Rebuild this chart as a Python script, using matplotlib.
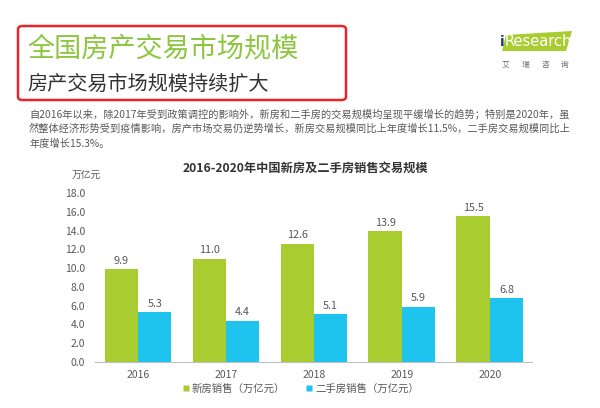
import numpy as np
import matplotlib
matplotlib.use('Agg')
import matplotlib.pyplot as plt
from matplotlib.patches import FancyBboxPatch, Polygon
from matplotlib.lines import Line2D

plt.rcParams['font.family'] = ['Noto Sans CJK SC', 'DejaVu Sans']

years = ['2016', '2017', '2018', '2019', '2020']
new_house = [9.9, 11.0, 12.6, 13.9, 15.5]
second_house = [5.3, 4.4, 5.1, 5.9, 6.8]
series_names = ['新房销售（万亿元）', '二手房销售（万亿元）']
yticks = np.arange(0, 18.1, 2.0)

GREEN = '#a9cc30'
BLUE = '#1ec4ee'
GRAY = '#595959'

W, H = 600, 408
fig = plt.figure(figsize=(6, 4.08), dpi=100)


def fx(px):
    return px / W


def fy(py):
    return 1 - py / H


# 标题框
box = FancyBboxPatch((fx(18), fy(100)), fx(328), (100 - 26) / H,
                     boxstyle='round,pad=0,rounding_size=0.008',
                     transform=fig.transFigure, fill=False,
                     edgecolor='#e5262a', linewidth=1.8)
fig.patches.append(box)
fig.text(fx(27), fy(49), '全国房产交易市场规模', fontsize=19.5, color='#8cc63e',
         va='center', ha='left')
fig.text(fx(27), fy(84), '房产交易市场规模持续扩大', fontsize=14.5, color='#333333',
         va='center', ha='left')

# logo
logo = Polygon([(fx(502), fy(51)), (fx(506), fy(35)), (fx(572), fy(31)),
                (fx(566), fy(51))], closed=True, transform=fig.transFigure,
               facecolor='#a9cc30', edgecolor='none')
fig.patches.append(logo)
fig.text(fx(500), fy(42), 'i', fontsize=10, color='#1b3b6f', va='center', ha='left',
         family='DejaVu Sans', fontweight='bold')
fig.text(fx(505), fy(42), 'Research', fontsize=10.5, color='white', va='center',
         ha='left', family='DejaVu Sans')
for i, ch in enumerate('艾瑞咨询'):
    fig.text(fx(505 + 20 * i), fy(65), ch, fontsize=5.5, color='#666666',
             va='center', ha='center')

# 说明文字
para = ['自2016年以来，除2017年受到政策调控的影响外，新房和二手房的交易规模均呈现平缓增长的趋势；特别是2020年，虽',
        '然整体经济形势受到疫情影响，房产市场交易仍逆势增长，新房交易规模同比上年度增长11.5%，二手房交易规模同比上',
        '年度增长15.3%。']
for i, line in enumerate(para):
    fig.text(fx(29), fy(114 + 15 * i), line, fontsize=7.35, color=GRAY,
             va='center', ha='left')

fig.text(fx(305), fy(168), '2016-2020年中国新房及二手房销售交易规模', fontsize=8.8,
         fontweight='bold', color='#333333', va='center', ha='center')

# 柱状图
ax = fig.add_axes([fx(95), fy(362), fx(532 - 95), (362 - 193) / H])
x = np.arange(len(years))
bw = 0.38
b1 = ax.bar(x - bw / 2, new_house, bw, color=GREEN, label=series_names[0])
b2 = ax.bar(x + bw / 2, second_house, bw, color=BLUE, label=series_names[1])
for bars, vals in ((b1, new_house), (b2, second_house)):
    for b, v in zip(bars, vals):
        ax.text(b.get_x() + b.get_width() / 2, v + 0.9, f'{v:.1f}', ha='center',
                va='center', fontsize=7.8, color=GRAY)

ax.set_xlim(-0.49, 4.48)
ax.set_ylim(0, 18)
ax.set_yticks(yticks)
ax.set_yticklabels([f'{t:.1f}' for t in yticks])
ax.set_xticks(x)
ax.set_xticklabels(years)
ax.tick_params(axis='both', length=0, labelsize=7.5, labelcolor=GRAY)
ax.tick_params(axis='y', pad=7)
ax.tick_params(axis='x', pad=6)
for s in ['top', 'right', 'left']:
    ax.spines[s].set_visible(False)
ax.spines['bottom'].set_color('#bfbfbf')
ax.set_facecolor('none')

fig.text(fx(86), fy(176), '万亿元', fontsize=7, color=GRAY, va='center', ha='center')

handles = [Line2D([], [], marker='s', linestyle='none', markersize=4.5,
                  markerfacecolor=c, markeredgecolor='none') for c in (GREEN, BLUE)]
fig.legend(handles, series_names, loc='center', bbox_to_anchor=(fx(300), fy(389)),
           ncol=2, frameon=False, fontsize=7.5, labelcolor=GRAY,
           handletextpad=0.1, columnspacing=1.8, handlelength=1.0)

fig.savefig('out.png', dpi=100, facecolor='white')
